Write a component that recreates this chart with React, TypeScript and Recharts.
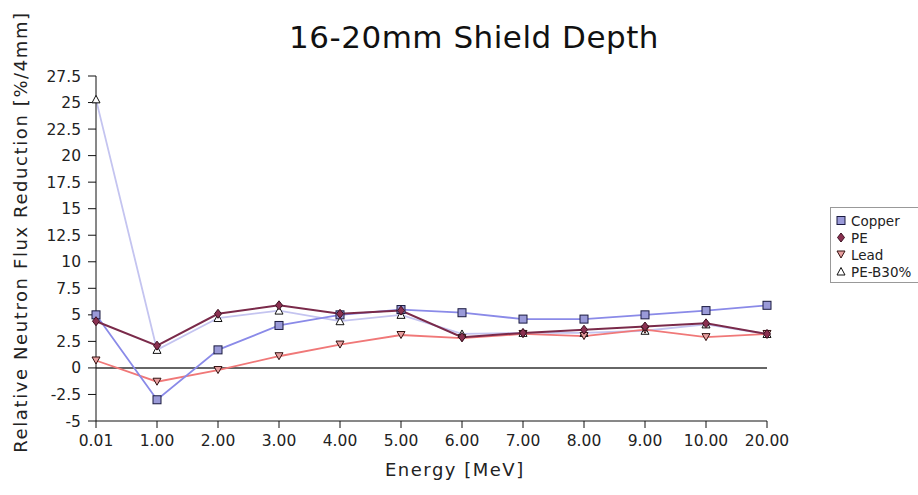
import React from "react";
import { LineChart, Line, XAxis, YAxis, ReferenceLine } from "recharts";

const energies = ["0.01", "1.00", "2.00", "3.00", "4.00", "5.00", "6.00", "7.00", "8.00", "9.00", "10.00", "20.00"];
const copper = [5.0, -3.0, 1.7, 4.0, 5.0, 5.5, 5.2, 4.6, 4.6, 5.0, 5.4, 5.9];
const pe = [4.4, 2.1, 5.1, 5.9, 5.1, 5.4, 2.9, 3.3, 3.6, 3.9, 4.2, 3.2];
const lead = [0.7, -1.3, -0.2, 1.1, 2.2, 3.1, 2.8, 3.2, 3.0, 3.6, 2.9, 3.2];
const peB30 = [25.3, 1.7, 4.7, 5.4, 4.4, 5.0, 3.2, 3.3, 3.3, 3.5, 4.1, 3.2];
const yTicks = [-5, -2.5, 0, 2.5, 5, 7.5, 10, 12.5, 15, 17.5, 20, 22.5, 25, 27.5];

const data = energies.map((e, i) => ({
  energy: e,
  copper: copper[i],
  pe: pe[i],
  lead: lead[i],
  peB30: peB30[i],
}));

const font = "'DejaVu Sans', sans-serif";

// marker shapes
function Square({ cx, cy }: any) {
  return <rect x={cx - 4} y={cy - 4} width={8} height={8} fill="#9a9ad8" stroke="#1a1a40" strokeWidth={1} />;
}
function Diamond({ cx, cy }: any) {
  return <path d={`M${cx},${cy - 4.5}L${cx + 3.5},${cy}L${cx},${cy + 4.5}L${cx - 3.5},${cy}Z`} fill="#8a3050" stroke="#3a1020" strokeWidth={1} />;
}
function DownTri({ cx, cy }: any) {
  return <path d={`M${cx - 4},${cy - 3.5}L${cx + 4},${cy - 3.5}L${cx},${cy + 3.5}Z`} fill="#e8a0a0" stroke="#331111" strokeWidth={1} />;
}
function UpTri({ cx, cy }: any) {
  return <path d={`M${cx},${cy - 4}L${cx + 4},${cy + 3.5}L${cx - 4},${cy + 3.5}Z`} fill="#ffffff" stroke="#111111" strokeWidth={1} />;
}

const legendItems = [
  { name: "Copper", Shape: Square },
  { name: "PE", Shape: Diamond },
  { name: "Lead", Shape: DownTri },
  { name: "PE-B30%", Shape: UpTri },
];

export default function App() {
  return (
    <div style={{ position: "absolute", left: 0, top: 0, width: 918, height: 495, background: "#fff", fontFamily: font, overflow: "hidden" }}>
      <div style={{ position: "absolute", left: 0, width: 948, top: 19, textAlign: "center", fontSize: 31, color: "#111", letterSpacing: 0.5 }}>
        16-20mm Shield Depth
      </div>
      <div
        style={{
          position: "absolute",
          left: 20,
          top: 232,
          transform: "translate(-50%, -50%) rotate(-90deg)",
          whiteSpace: "nowrap",
          fontSize: 18,
          letterSpacing: 1.6,
          color: "#222",
        }}
      >
        Relative Neutron Flux Reduction [%/4mm]
      </div>
      <div style={{ position: "absolute", left: 385, top: 459, fontSize: 18, letterSpacing: 1.5, color: "#222" }}>Energy [MeV]</div>
      <div
        style={{
          position: "absolute",
          left: 830,
          top: 207,
          width: 92,
          height: 76,
          border: "1px solid #999",
          background: "#fff",
          boxSizing: "border-box",
          paddingTop: 4,
        }}
      >
        {legendItems.map(({ name, Shape }) => (
          <div key={name} style={{ display: "flex", alignItems: "center", height: 17, fontSize: 13.5, color: "#222" }}>
            <svg width={20} height={17}>
              <Shape cx={10} cy={8.5} />
            </svg>
            <span>{name}</span>
          </div>
        ))}
      </div>
      <LineChart
        width={918}
        height={495}
        data={data}
        margin={{ top: 76, right: 151, bottom: 44, left: 0 }}
        style={{ position: "absolute", left: 0, top: 0 }}
      >
        <XAxis
          dataKey="energy"
          stroke="#111"
          tick={{ fill: "#222", fontSize: 15.5, fontFamily: font, dy: 5 }}
          tickLine={{ stroke: "#111" }}
          tickSize={7}
          interval={0}
        />
        <YAxis
          width={96}
          domain={[-5, 27.5]}
          ticks={yTicks}
          stroke="#111"
          tick={{ fill: "#222", fontSize: 15.5, fontFamily: font, dx: -5 }}
          tickSize={8}
          interval={0}
        />
        <ReferenceLine y={0} stroke="#333" strokeWidth={1.5} />
        <Line dataKey="peB30" stroke="#c4c4f0" strokeWidth={1.8} dot={(p: any) => <UpTri key={p.index} {...p} />} isAnimationActive={false} />
        <Line dataKey="lead" stroke="#f07878" strokeWidth={1.8} dot={(p: any) => <DownTri key={p.index} {...p} />} isAnimationActive={false} />
        <Line dataKey="copper" stroke="#8a8ae8" strokeWidth={1.8} dot={(p: any) => <Square key={p.index} {...p} />} isAnimationActive={false} />
        <Line dataKey="pe" stroke="#7a2a4a" strokeWidth={2} dot={(p: any) => <Diamond key={p.index} {...p} />} isAnimationActive={false} />
      </LineChart>
    </div>
  );
}
